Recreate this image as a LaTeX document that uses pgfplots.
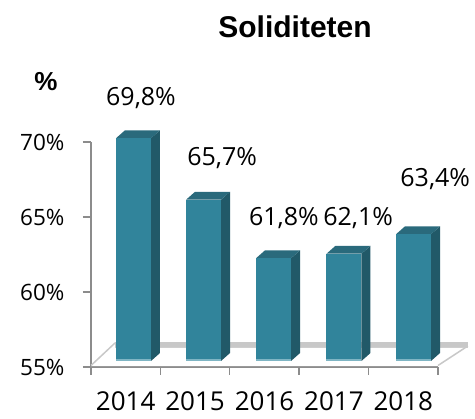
\documentclass[border=0pt]{standalone}
\usepackage{pgfplots}
\usepackage{fontspec}
\pgfplotsset{compat=1.18}
\setmainfont{Open Sans}
\newfontfamily\titlefont{Liberation Sans}
\definecolor{barfront}{HTML}{31849B}
\definecolor{barside}{HTML}{215968}
\definecolor{bartop}{HTML}{2A6A7C}
\definecolor{barlight}{HTML}{7FB5C4}
\definecolor{axisgray}{HTML}{8C8C8C}
\definecolor{floorgray}{HTML}{C8C8C8}
% one 3D column: centre x, value
\newcommand{\cube}[2]{%
  \pgfmathsetmacro{\xl}{#1-0.252}%
  \pgfmathsetmacro{\xr}{#1+0.252}%
  \pgfmathsetmacro{\xs}{#1+0.382}%
  \pgfmathsetmacro{\xt}{#1-0.122}%
  \pgfmathsetmacro{\yf}{#2+0.45}%
  \pgfmathsetmacro{\yb}{#2+0.98}%
  \addplot[fill=barside,draw=none] coordinates {(\xr,55.4) (\xs,55.93) (\xs,\yb) (\xr,\yf)} --cycle;
  \addplot[fill=bartop,draw=none] coordinates {(\xl,\yf) (\xr,\yf) (\xs,\yb) (\xt,\yb)} --cycle;
  \addplot[fill=barfront,draw=none] coordinates {(\xl,55.4) (\xr,55.4) (\xr,\yf) (\xl,\yf)} --cycle;
  \addplot[fill=barlight,draw=none] coordinates {(\xl,55.4) (\xr,55.4) (\xr,55.53) (\xl,55.53)} --cycle;
}
\begin{document}
\begin{tikzpicture}
\path[use as bounding box] (-91pt,-52pt) rectangle (384pt,367pt);
\begin{axis}[
    scale only axis,
    width=347pt, height=225pt,
    xmin=-0.5, xmax=4.5,
    ymin=55, ymax=70,
    clip=false,
    axis x line=bottom, axis y line=left,
    axis line style={draw=axisgray,line width=2pt,-},
    tick style={draw=axisgray,line width=1.4pt},
    tick align=outside,
    major tick length=8pt,
    minor tick length=8pt,
    ytick={55,60,65,70},
    yticklabel={\pgfmathprintnumber{\tick}\%},
    /pgf/number format/assume math mode=true,
    yticklabel style={font=\fontsize{22.5}{24}\selectfont,xshift=-15pt},
    xtick={0,1,2,3,4},
    xticklabels={2014,2015,2016,2017,2018},
    x tick style={draw=none},
    minor x tick style={draw=axisgray,line width=1.4pt},
    minor xtick={-0.5,0.5,1.5,2.5,3.5,4.5},
    xticklabel style={font=\fontsize{26}{28}\selectfont,yshift=-16pt,inner sep=0pt},
]
% floor and back wall
\addplot[fill=floorgray,draw=none] coordinates {(-0.154,56.27) (4.93,56.27) (4.93,56.67) (-0.154,56.67)} --cycle;
\addplot[fill=white,draw=none] coordinates {(-0.5,55.05) (4.5,55.05) (4.93,56.27) (-0.154,56.27)} --cycle;
\addplot[floorgray,line width=1.5pt] coordinates {(-0.5,55.1) (-0.154,56.6)};
\addplot[floorgray,line width=1.5pt] coordinates {(4.5,55.1) (4.93,56.4)};
\cube{0.112}{69.8}
\cube{1.121}{65.7}
\cube{2.13}{61.8}
\cube{3.145}{62.1}
\cube{4.147}{63.4}
\node[font=\fontsize{25}{28}\selectfont] at (axis cs:0.22,72.95) {69,8\%};
\node[font=\fontsize{25}{28}\selectfont] at (axis cs:1.39,68.95) {65,7\%};
\node[font=\fontsize{25}{28}\selectfont] at (axis cs:2.28,64.9) {61,8\%};
\node[font=\fontsize{25}{28}\selectfont] at (axis cs:3.35,64.9) {62,1\%};
\node[font=\fontsize{25}{28}\selectfont] at (axis cs:4.46,67.55) {63,4\%};
\node[font=\titlefont\bfseries\fontsize{30}{32}\selectfont] at (axis cs:2.44,77.7) {Soliditeten};
\node[font=\titlefont\bfseries\fontsize{26}{28}\selectfont] at (axis cs:-1.15,74.02) {\%};
\end{axis}
\end{tikzpicture}
\end{document}
